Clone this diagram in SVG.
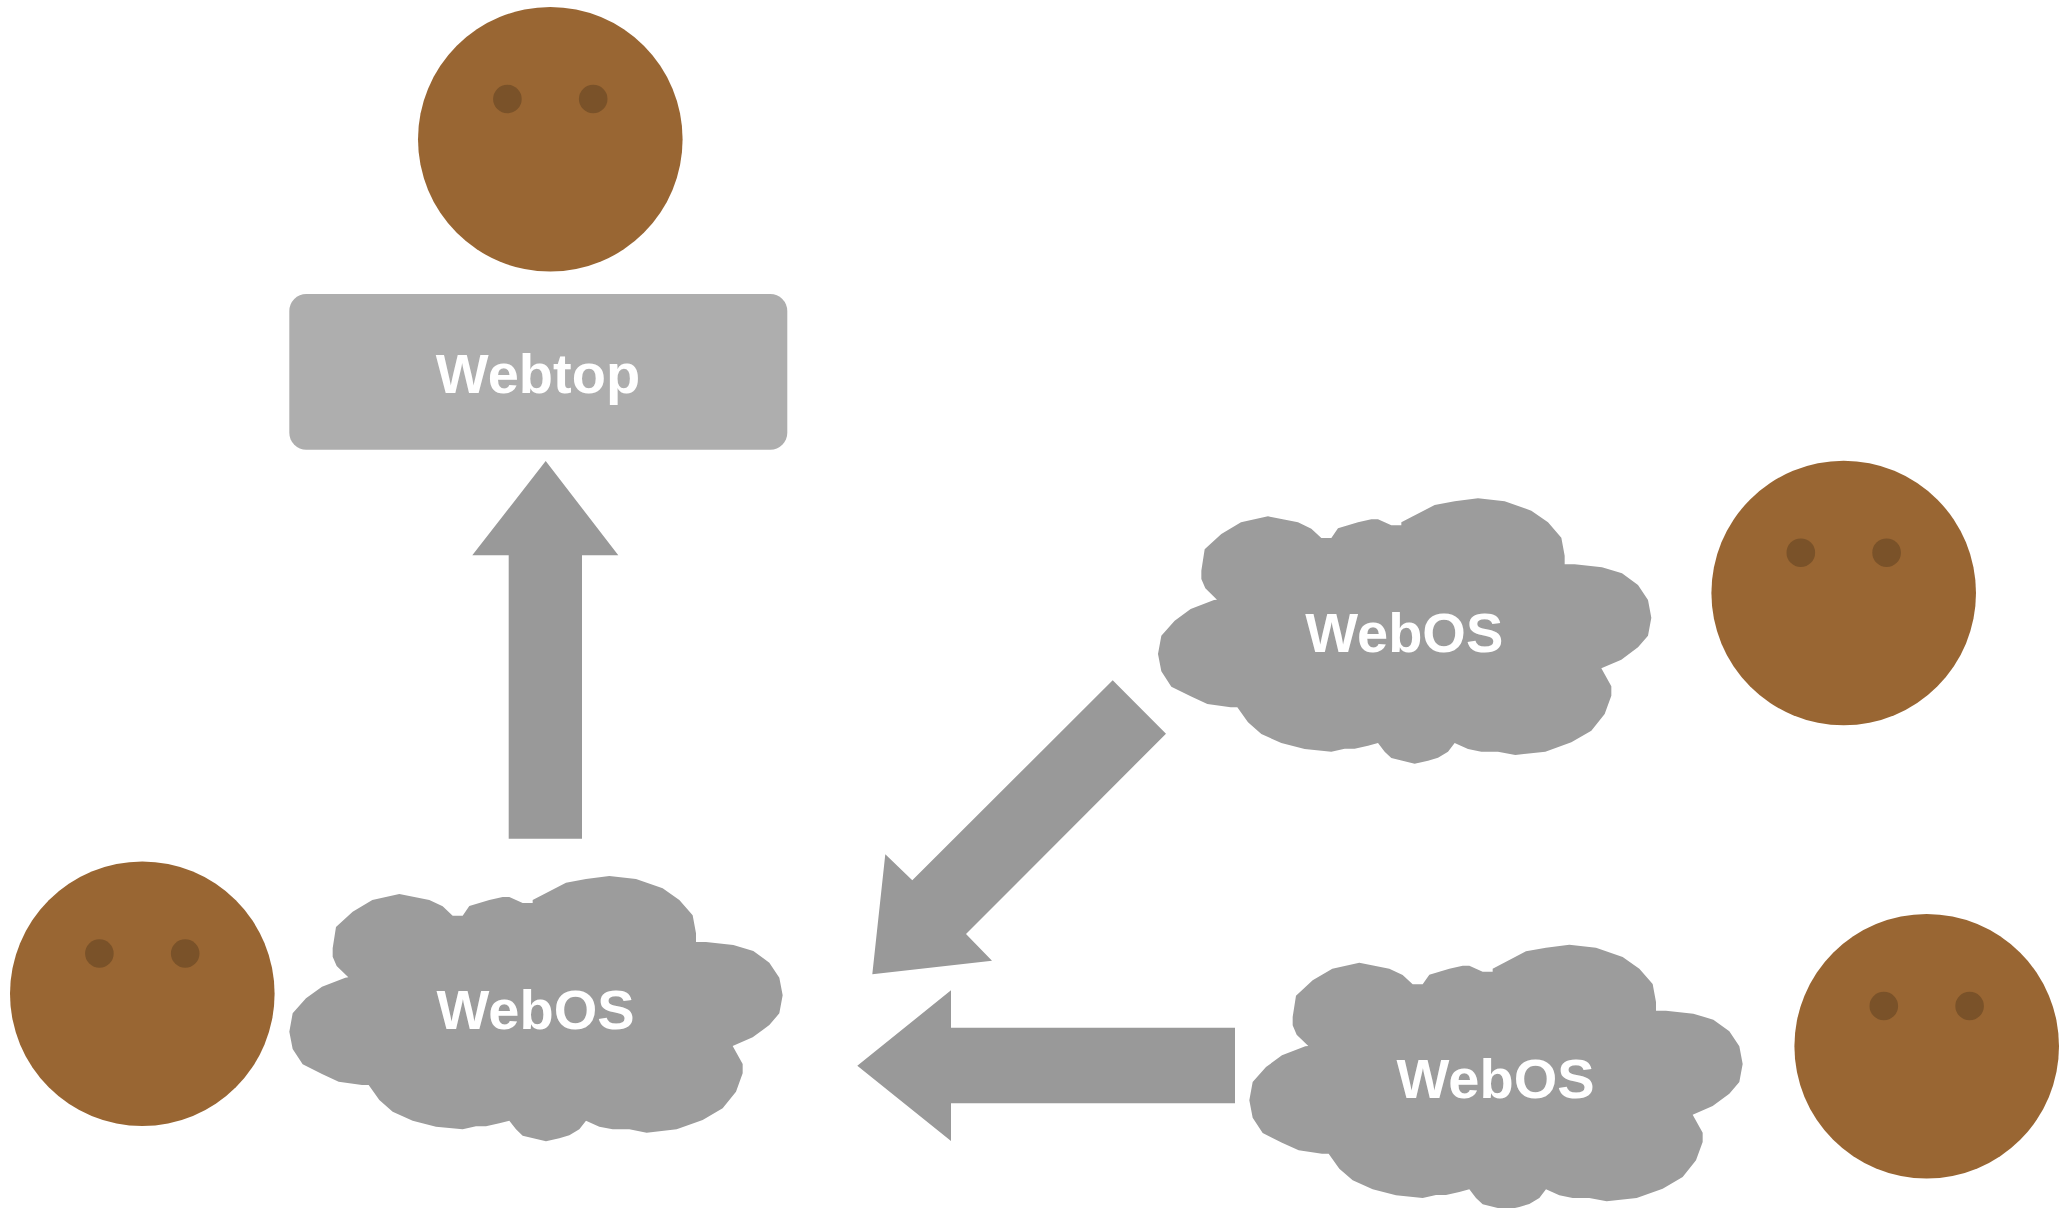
<svg xmlns="http://www.w3.org/2000/svg" xmlns:xlink="http://www.w3.org/1999/xlink" width="2059" height="1208" viewBox="0 0 2059 1208">
<style>
.face{fill:#996633}
.eye{fill:#7a5229}
.cloud{fill:#9c9c9c}
.box{fill:#aeaeae}
.arrow{fill:#999999}
.label{font-family:"Liberation Sans",Arial,sans-serif;font-weight:700;font-size:56px;fill:#ffffff;text-anchor:middle}
</style>
<defs>
<polygon id="cloud-shape" class="cloud" transform="translate(280 850) scale(0.33333)" points="988,78 1068,87 1148,115 1198,150 1238,196 1248,250 1248,276 1278,276 1360,285 1420,303 1468,338 1498,383 1508,436 1498,490 1468,525 1418,562 1358,588 1388,642 1388,670 1368,725 1328,775 1268,810 1190,838 1100,848 1048,838 998,838 958,830 918,812 898,838 868,856 838,865 798,874 728,857 708,838 688,812 658,820 618,829 588,829 548,838 468,830 398,812 338,785 298,750 266,705 246,705 176,695 126,672 68,643 38,597 28,545 38,490 78,445 126,410 196,383 205,382 170,348 158,320 158,295 168,231 218,185 277,150 358,132 448,150 488,169 518,197 548,197 568,168 628,150 668,141 688,141 728,159 758,159 758,150 858,98 918,87"/>
<g id="face-shape">
<circle class="face" r="132.3"/>
<circle class="eye" cx="-42.9" cy="-40.3" r="14.3"/>
<circle class="eye" cx="42.9" cy="-40.3" r="14.3"/>
</g>
</defs>
<rect width="2059" height="1208" fill="#ffffff"/>
<g id="connectors">
<polygon class="arrow" points="545.7,461 618.3,555.3 582,555.3 582,838.7 508.7,838.7 508.7,555.3 472.3,555.3"/>
<polygon class="arrow" points="1112.7,680.3 1166,733.7 966,934 992,960.7 872.3,974.3 885.3,854.3 912.3,880.3"/>
<polygon class="arrow" points="857.3,1065.7 951,990.3 951,1027.7 1235,1027.7 1235,1103.3 951,1103.3 951,1141"/>
</g>
<g id="person-top"><use xlink:href="#face-shape" transform="translate(550.3 139.3)"/></g>
<g id="webtop">
<rect class="box" x="289.3" y="294" width="498" height="155.7" rx="17" ry="17"/>
<text class="label" x="538" y="392.7">Webtop</text>
</g>
<g id="person-left"><use xlink:href="#face-shape" transform="translate(142.3 993.8)"/></g>
<g id="webos-left">
<use xlink:href="#cloud-shape"/>
<text class="label" x="535.5" y="1029.3">WebOS</text>
</g>
<g id="person-right"><use xlink:href="#face-shape" transform="translate(1843.7 593)"/></g>
<g id="webos-right">
<use xlink:href="#cloud-shape" transform="translate(868.67 -377.67)"/>
<text class="label" x="1404.2" y="651.6">WebOS</text>
</g>
<g id="person-lower"><use xlink:href="#face-shape" transform="translate(1926.7 1046.3)"/></g>
<g id="webos-lower">
<use xlink:href="#cloud-shape" transform="translate(960 68.67)"/>
<text class="label" x="1495.5" y="1097.9">WebOS</text>
</g>
</svg>
